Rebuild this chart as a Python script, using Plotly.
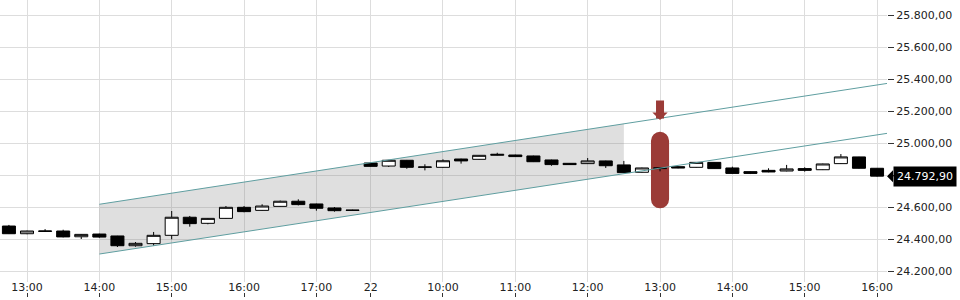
import numpy as np
import plotly.graph_objects as go

# ---- data ----
opens = [24481, 24433, 24447, 24450, 24414, 24431, 24419, 24358, 24371, 24423,
         24536, 24498, 24529, 24598, 24579, 24604, 24636, 24619, 24594, 24581,
         24875, 24856, 24892, 24848, 24848, 24900, 24898, 24923, 24925, 24919,
         24894, 24873, 24871, 24888, 24863, 24817, 24840, 24852, 24848, 24879,
         24844, 24821, 24829, 24825, 24840, 24833, 24871, 24913, 24842]
highs = [24488, 24452, 24462, 24458, 24431, 24433, 24420, 24381, 24444, 24575,
         24544, 24531, 24606, 24606, 24617, 24640, 24648, 24621, 24600, 24583,
         24877, 24894, 24894, 24867, 24898, 24902, 24925, 24939, 24927, 24921,
         24896, 24875, 24906, 24890, 24888, 24846, 24846, 24854, 24881, 24881,
         24852, 24823, 24842, 24863, 24848, 24871, 24931, 24914, 24844]
lows = [24431, 24430, 24445, 24410, 24400, 24408, 24350, 24352, 24358, 24398,
        24477, 24492, 24527, 24567, 24577, 24602, 24610, 24577, 24571, 24577,
        24852, 24850, 24839, 24829, 24846, 24871, 24896, 24921, 24913, 24881,
        24858, 24863, 24869, 24844, 24812, 24815, 24823, 24842, 24846, 24838,
        24808, 24806, 24817, 24823, 24821, 24831, 24869, 24840, 24790]
closes = [24433, 24450, 24450, 24413, 24429, 24412, 24358, 24373, 24423, 24536,
          24496, 24529, 24598, 24571, 24606, 24636, 24615, 24592, 24577, 24579,
          24854, 24892, 24848, 24850, 24889, 24888, 24923, 24929, 24915, 24883,
          24865, 24865, 24888, 24858, 24815, 24844, 24844, 24844, 24879, 24840,
          24810, 24810, 24819, 24838, 24829, 24869, 24913, 24842, 24792.90]

tick_pos = [1, 5, 9, 13, 17, 20, 24, 28, 32, 36, 40, 44, 48]
tick_labels = ["13:00", "14:00", "15:00", "16:00", "17:00", "22", "10:00",
               "11:00", "12:00", "13:00", "14:00", "15:00", "16:00"]
y_ticks = [24200, 24400, 24600, 24800, 25000, 25200, 25400, 25600, 25800]

channel_x = [5, 49]
channel_upper = [24617, 25380]
channel_lower = [24306, 25068]
shade_x = [5, 34]

signal_x = 36
signal_low, signal_high = 24592, 25070
arrow_tip, arrow_tail = 25143, 25275
last_price = closes[-1]

# ---- styling ----
FONT = "DejaVu Sans"
TXT = "#222222"
GRID = "#dddddd"
RED = "#9b3b37"
TEAL = "#5f9ea0"

idx = list(range(len(opens)))
x_range = [-0.493, 48.55]
y_range = [24131.25, 25893.75]

fig = go.Figure()

# signal pill
fig.add_trace(go.Bar(x=[signal_x], y=[signal_high - signal_low], base=[signal_low],
                     width=1.0, marker=dict(color=RED, cornerradius=9, line=dict(width=0)),
                     hoverinfo="skip"))

fig.add_trace(go.Candlestick(
    x=idx, open=opens, high=highs, low=lows, close=closes,
    increasing=dict(line=dict(color="black", width=1), fillcolor="white"),
    decreasing=dict(line=dict(color="black", width=1), fillcolor="black"),
    whiskerwidth=0))

for arr in (channel_upper, channel_lower):
    fig.add_trace(go.Scatter(x=channel_x, y=arr, mode="lines",
                             line=dict(color=TEAL, width=1), hoverinfo="skip"))

# dummy trace for the tick-mark axis
fig.add_trace(go.Scatter(x=[], y=[], xaxis="x2", yaxis="y", hoverinfo="skip"))

# shaded channel region
up_s = np.interp(shade_x, channel_x, channel_upper)
lo_s = np.interp(shade_x, channel_x, channel_lower)
path = (f"M {shade_x[0]},{up_s[0]} L {shade_x[1]},{up_s[1]} "
        f"L {shade_x[1]},{lo_s[1]} L {shade_x[0]},{lo_s[0]} Z")

price_txt = f"{last_price:,.2f}".replace(",", "X").replace(".", ",").replace("X", ".")

fig.update_layout(
    width=960, height=300,
    margin=dict(l=0, r=73, t=0, b=3),
    paper_bgcolor="white", plot_bgcolor="white",
    showlegend=False, separators=",.", barmode="overlay",
    boxgap=0.28, boxgroupgap=0,
    font=dict(family=FONT, size=11, color=TXT),
    shapes=[dict(type="path", path=path, xref="x", yref="y",
                 fillcolor="rgba(128,128,128,0.25)", line=dict(width=0),
                 layer="between")],
    annotations=[
        dict(x=signal_x, y=arrow_tip, ax=signal_x, ay=arrow_tail,
             xref="x", yref="y", axref="x", ayref="y", text="",
             showarrow=True, arrowhead=1, arrowwidth=8, arrowsize=0.32,
             arrowcolor=RED),
        dict(x=1, y=last_price, xref="paper", yref="y", text=price_txt,
             showarrow=True, ax=38, ay=0, axref="pixel", ayref="pixel",
             arrowhead=1, arrowsize=2, arrowwidth=1, arrowcolor="black",
             bgcolor="black", borderpad=3,
             font=dict(family=FONT, size=11, color="white")),
    ],
    xaxis=dict(range=x_range, tickvals=tick_pos, ticktext=tick_labels,
               ticks="", showgrid=True, gridcolor=GRID, gridwidth=1,
               zeroline=False, showline=False, rangeslider=dict(visible=False),
               ticklabelstandoff=-3,
               tickfont=dict(family=FONT, size=11, color=TXT), fixedrange=True),
    xaxis2=dict(overlaying="x", anchor="free", position=0, range=x_range,
                tickvals=tick_pos, ticks="inside", ticklen=4, tickcolor="#333333",
                showticklabels=False, showgrid=False, zeroline=False, showline=False),
    yaxis=dict(side="right", range=y_range, tickvals=y_ticks, tickformat=",.2f",
               ticks="outside", ticklen=6, tickcolor="#333333",
               showgrid=True, gridcolor=GRID, gridwidth=1, zeroline=False,
               showline=False, domain=[15 / 297, 1],
               tickfont=dict(family=FONT, size=11, color=TXT)),
)

fig.write_html("out.html")
